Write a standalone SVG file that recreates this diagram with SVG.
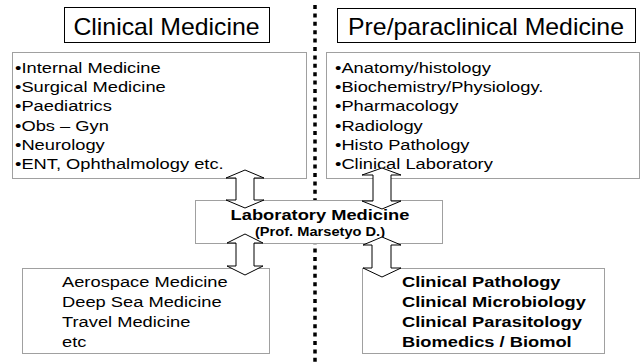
<svg xmlns="http://www.w3.org/2000/svg" width="641" height="362" viewBox="0 0 641 362">
<style>
.bg{fill:#fff}
.tbox{fill:#fff;stroke:#000;stroke-width:1}
.gbox{fill:#fff;stroke:#a0a0a0;stroke-width:1}
.title{font-family:"Liberation Sans",Arial,sans-serif;font-size:23px;fill:#000}
.item{font-family:"Liberation Sans",Arial,sans-serif;font-size:15px;fill:#000}
.bold{font-family:"Liberation Sans",Arial,sans-serif;font-size:15px;font-weight:bold;fill:#000}
.small{font-family:"Liberation Sans",Arial,sans-serif;font-size:12px;font-weight:bold;fill:#000}
.arrow{fill:#fff;stroke:#000;stroke-width:1;stroke-linejoin:miter}
.divider{stroke:#000;stroke-width:3.5;stroke-dasharray:4 4.4;fill:none}
</style>
<rect class="bg" x="0" y="0" width="641" height="362"/>
<line id="divider" class="divider" x1="315" y1="5" x2="315" y2="362"/>

<g id="clinical-title">
<rect class="tbox" x="64.5" y="7.5" width="205" height="35"/>
<text class="title" x="0" y="35.5" text-anchor="middle" transform="translate(166.5,0) scale(1.08,1)">Clinical Medicine</text>
</g>
<g id="preclinical-title">
<rect class="tbox" x="337.5" y="8.5" width="298" height="34"/>
<text class="title" x="0" y="35.5" text-anchor="middle" transform="translate(486,0) scale(1.08,1)">Pre/paraclinical Medicine</text>
</g>

<g id="clinical-list">
<rect class="gbox" x="12.5" y="52.5" width="294" height="126"/>
<g transform="translate(15,0) scale(1.22,1)">
<text class="item" x="0" y="73">•Internal Medicine</text>
<text class="item" x="0" y="92.2">•Surgical Medicine</text>
<text class="item" x="0" y="111.4">•Paediatrics</text>
<text class="item" x="0" y="130.6">•Obs – Gyn</text>
<text class="item" x="0" y="149.8">•Neurology</text>
<text class="item" x="0" y="169">•ENT, Ophthalmology etc.</text>
</g>
</g>

<g id="preclinical-list">
<rect class="gbox" x="326.5" y="52.5" width="313" height="126"/>
<g transform="translate(335,0) scale(1.22,1)">
<text class="item" x="0" y="73">•Anatomy/histology</text>
<text class="item" x="0" y="92.2">•Biochemistry/Physiology.</text>
<text class="item" x="0" y="111.4">•Pharmacology</text>
<text class="item" x="0" y="130.6">•Radiology</text>
<text class="item" x="0" y="149.8">•Histo Pathology</text>
<text class="item" x="0" y="169">•Clinical Laboratory</text>
</g>
</g>

<g id="lab-medicine">
<rect class="gbox" x="195.5" y="200.5" width="247" height="43"/>
<g transform="translate(320,0) scale(1.22,1)">
<text class="bold" x="0" y="220" text-anchor="middle">Laboratory Medicine</text>
<text class="small" x="0" y="236" text-anchor="middle">(Prof. Marsetyo D.)</text>
</g>
</g>

<g id="special-medicine">
<rect class="gbox" x="22.5" y="268.5" width="247" height="85"/>
<g transform="translate(62,0) scale(1.22,1)">
<text class="item" x="0" y="287.3">Aerospace Medicine</text>
<text class="item" x="0" y="307.3">Deep Sea Medicine</text>
<text class="item" x="0" y="327.1">Travel Medicine</text>
<text class="item" x="0" y="346.7">etc</text>
</g>
</g>

<g id="lab-disciplines">
<rect class="gbox" x="362.5" y="268.5" width="242" height="85"/>
<g transform="translate(402,0) scale(1.22,1)">
<text class="bold" x="0" y="287.3">Clinical Pathology</text>
<text class="bold" x="0" y="307.3">Clinical Microbiology</text>
<text class="bold" x="0" y="327.1">Clinical Parasitology</text>
<text class="bold" x="0" y="346.7">Biomedics / Biomol</text>
</g>
</g>

<g id="connectors">
<polygon class="arrow" points="245,170 264,178 254,178 254,200 264,200 245,208 226,200 236,200 236,178 226,178"/>
<polygon class="arrow" points="245,234 263,243 254,243 254,266 263,266 245,275 227,266 236,266 236,243 227,243"/>
<polygon class="arrow" points="382,168 401,175 391,175 391,201 401,201 382,209 362,201 373,201 373,175 362,175"/>
<polygon class="arrow" points="382,237 401,245 391,245 391,268 401,268 382,277 363,268 372,268 372,245 363,245"/>
</g>
</svg>
